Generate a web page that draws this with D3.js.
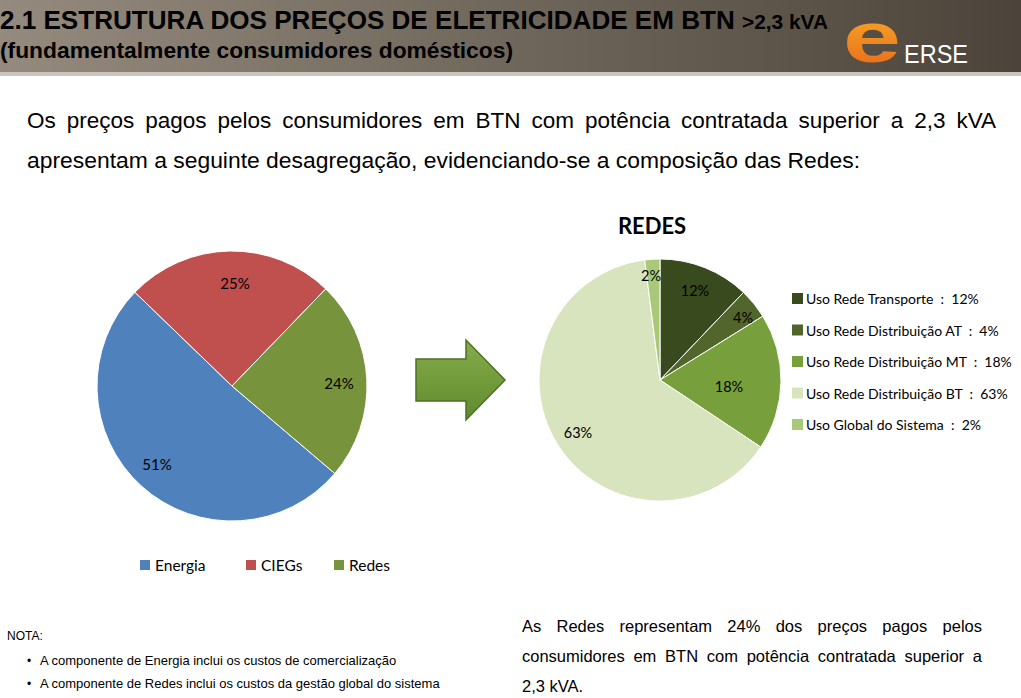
<!DOCTYPE html><html><head><meta charset="utf-8">
<script src="https://cdn.jsdelivr.net/npm/d3@7"></script>
<style>body{margin:0;background:#fff}svg{display:block}text{white-space:pre}</style></head><body>
<script>
const mainCats=["Energia","CIEGs","Redes"];
const mainVals=[51,25,24];
const mainColors=["#4f81bd","#c0504d","#77933c"];
const redesCats=["Uso Rede Transporte","Uso Rede Distribuição AT","Uso Rede Distribuição MT","Uso Rede Distribuição BT","Uso Global do Sistema"];
const redesVals=[12,4,18,63,2];
const redesColors=["#394a1e","#52662b","#77a03c","#d7e4bd","#a9c979"];

const W=1021,H=698;
const svg=d3.select("body").append("svg").attr("width",W).attr("height",H);
const defs=svg.append("defs");
const g=defs.append("linearGradient").attr("id","hg");
g.append("stop").attr("offset","0").attr("stop-color","#948a7d");
g.append("stop").attr("offset","1").attr("stop-color","#4c443a");
svg.append("rect").attr("width",W).attr("height",72).attr("fill","url(#hg)");
svg.append("rect").attr("y",72).attr("width",W).attr("height",4).attr("fill","#c9c4bc");
const F="Liberation Sans, Arial, sans-serif";
function justify(sel,width){
  const n=sel.text().split(" ").length-1;
  const w=sel.node().getComputedTextLength();
  sel.attr("word-spacing",(width-w)/n);
}
const t1=svg.append("text").attr("x",0).attr("y",29).attr("font-family",F).attr("font-weight","bold").attr("font-size",25).attr("fill","#000")
 .attr("textLength",828).attr("lengthAdjust","spacingAndGlyphs");
t1.append("tspan").text("2.1 ESTRUTURA DOS PREÇOS DE ELETRICIDADE EM BTN ");
t1.append("tspan").attr("font-size",20).text(">2,3 kVA");
svg.append("text").attr("x",0).attr("y",58).attr("font-family",F).attr("font-weight","bold").attr("font-size",22).attr("fill","#000")
 .attr("textLength",513).attr("lengthAdjust","spacingAndGlyphs").text("(fundamentalmente consumidores domésticos)");
const lg=defs.append("linearGradient").attr("id","lg").attr("x1",0).attr("y1",0).attr("x2",0).attr("y2",1);
lg.append("stop").attr("offset","0").attr("stop-color","#f9b52a");
lg.append("stop").attr("offset","1").attr("stop-color","#e8651a");
svg.append("text").attr("x",843).attr("y",62).attr("font-family",F).attr("font-weight","bold").attr("font-size",72).attr("fill","url(#lg)")
 .attr("textLength",58).attr("lengthAdjust","spacingAndGlyphs").text("e");
svg.append("text").attr("x",904).attr("y",63).attr("font-family",F).attr("font-size",25).attr("fill","#fff")
 .attr("textLength",64).attr("lengthAdjust","spacingAndGlyphs").text("ERSE");

const TF="Liberation Sans, Arial, sans-serif";
justify(svg.append("text").attr("x",27).attr("y",128).attr("font-family",TF).attr("font-size",22.5)
 .text("Os preços pagos pelos consumidores em BTN com potência contratada superior a 2,3 kVA"),969);
svg.append("text").attr("x",27).attr("y",168).attr("font-family",TF).attr("font-size",22.9)
 .attr("textLength",833).attr("lengthAdjust","spacingAndGlyphs")
 .text("apresentam a seguinte desagregação, evidenciando-se a composição das Redes:");

const CF="Lato, 'Open Sans', sans-serif";
function pie(cx,cy,r,vals,cols,start){
  const p=d3.pie().sort(null).startAngle(start).endAngle(start+2*Math.PI)(vals);
  const arc=d3.arc().innerRadius(0).outerRadius(r);
  const gg=svg.append("g").attr("transform",`translate(${cx},${cy})`);
  gg.selectAll("path").data(p).join("path").attr("d",arc).attr("fill",(d,i)=>cols[i]).attr("stroke","#fff").attr("stroke-width",1);
  return {gg,p};
}
const deg=Math.PI/180;
const L=pie(232,386,135,mainVals,mainColors,130.4*deg);
const ll=[[157,465],[235,284],[339,384]];
L.p.forEach((d,i)=>{
  svg.append("text").attr("x",ll[i][0]).attr("y",ll[i][1]).attr("text-anchor","middle").attr("dy","0.35em").attr("font-family",CF).attr("font-size",15).text(d.data+"%");
});

const lx=[140,246,334];
mainCats.forEach((c,i)=>{
  svg.append("rect").attr("x",lx[i]).attr("y",560).attr("width",10).attr("height",10).attr("fill",mainColors[i]);
  svg.append("text").attr("x",lx[i]+15).attr("y",571).attr("font-family",CF).attr("font-size",15.5).text(c);
});

const ag=defs.append("linearGradient").attr("id","ag").attr("x1",0).attr("y1",0).attr("x2",0).attr("y2",1);
ag.append("stop").attr("offset","0").attr("stop-color","#86ad4c");
ag.append("stop").attr("offset","1").attr("stop-color","#5f8a2c");
svg.append("path").attr("d","M416,359 L466,359 L466,340 L505,380 L466,420 L466,401 L416,401 Z").attr("fill","url(#ag)").attr("stroke","#4e7023").attr("stroke-width",1.5);

svg.append("text").attr("x",652).attr("y",234).attr("text-anchor","middle").attr("font-family",CF).attr("font-weight","bold").attr("font-size",22).text("REDES");
const R=pie(660,380,121,redesVals,redesColors,0);
const rl=[[695,296],[743,323],[729,392],[578,438],[651,281]];
R.p.forEach((d,i)=>{
  svg.append("text").attr("x",rl[i][0]).attr("y",rl[i][1]).attr("text-anchor","middle").attr("font-family",CF).attr("font-size",14.5).text(d.data+"%");
});
redesCats.forEach((c,i)=>{
  const y=302+i*31.5;
  svg.append("rect").attr("x",792).attr("y",y-9).attr("width",11).attr("height",11).attr("fill",redesColors[i]);
  svg.append("text").attr("x",806).attr("y",y+2).attr("font-family",CF).attr("font-size",14).text(c+"  :  "+redesVals[i]+"%");
});

svg.append("text").attr("x",7).attr("y",640).attr("font-family",TF).attr("font-size",12).text("NOTA:");
svg.append("text").attr("x",27).attr("y",665).attr("font-family",TF).attr("font-size",12).text("•");
svg.append("text").attr("x",27).attr("y",688).attr("font-family",TF).attr("font-size",12).text("•");
svg.append("text").attr("x",40).attr("y",665).attr("font-family",TF).attr("font-size",13).text("A componente de Energia inclui os custos de comercialização");
svg.append("text").attr("x",40).attr("y",688).attr("font-family",TF).attr("font-size",13).text("A componente de Redes inclui os custos da gestão global do sistema");
const rt=["As Redes representam 24% dos preços pagos pelos","consumidores em BTN com potência contratada superior a","2,3 kVA."];
rt.forEach((t,i)=>{
  const e=svg.append("text").attr("x",522).attr("y",632+i*30).attr("font-family",TF).attr("font-size",16.5).text(t);
  if(i<2)justify(e,460);
});
</script></body></html>
